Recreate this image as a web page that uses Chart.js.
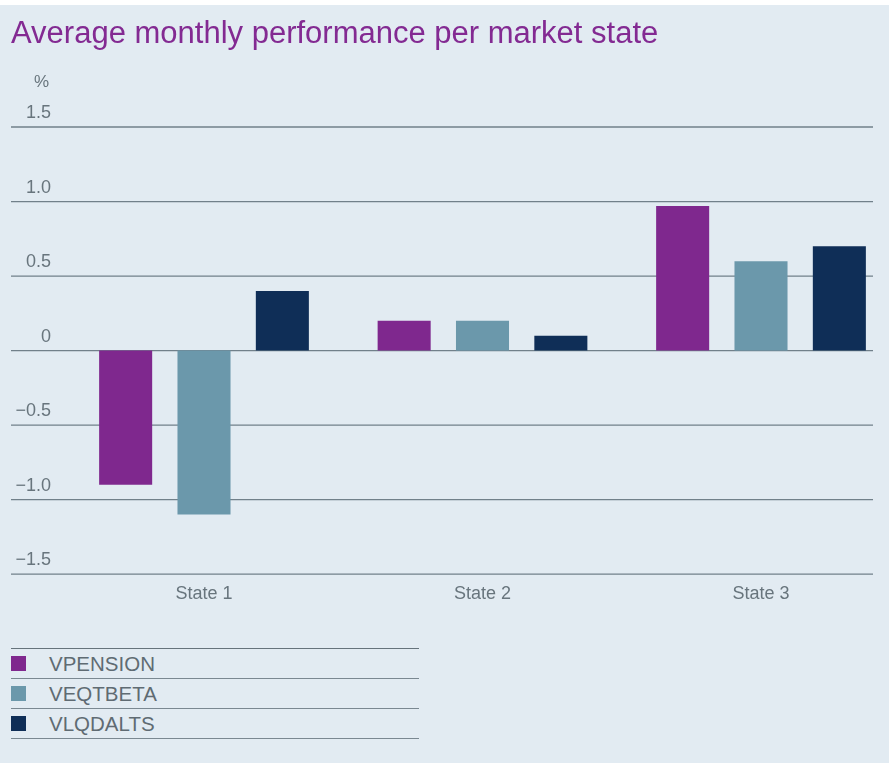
<!DOCTYPE html>
<html><head><meta charset="utf-8">
<script src="https://cdn.jsdelivr.net/npm/chart.js@4"></script>
<style>
html,body{margin:0;padding:0;background:#fff;}
#panel{position:absolute;left:0;top:5px;width:889px;height:758px;background:#e2ebf2;}
#wrap{position:absolute;left:0;top:0;width:894px;height:625px;}
#legend{position:absolute;left:11px;top:648px;width:408px;font-family:"Liberation Sans",Arial,sans-serif;}
.row{height:29px;border-bottom:1px solid #7a8891;position:relative;}
.row:first-child{border-top:1px solid #66737c;}
.sw{position:absolute;left:0;top:7px;width:15px;height:15px;}
.lb{position:absolute;left:38px;top:0;line-height:29px;font-size:20.5px;color:#5f6b73;}
</style></head>
<body>
<div id="panel"></div>
<div id="wrap"><canvas id="c" width="894" height="625"></canvas></div>
<div id="legend"></div>
<script>
const categories = ['State 1', 'State 2', 'State 3'];
const seriesNames = ['VPENSION', 'VEQTBETA', 'VLQDALTS'];
const vpension = [-0.90, 0.20, 0.97];
const veqtbeta = [-1.10, 0.20, 0.60];
const vlqdalts = [0.40, 0.10, 0.70];
const yTickLabels = ['\u22121.5', '\u22121.0', '\u22120.5', '0', '0.5', '1.0', '1.5'];
const yUnit = '%';
const chartTitle = 'Average monthly performance per market state';

const seriesValues = [vpension, veqtbeta, vlqdalts];
const seriesColors = ['#7f288e', '#6b98ab', '#0f2e57'];
const FONT = '"Liberation Sans", Arial, sans-serif';
const TICK_COLOR = '#68757d';

const gridPlugin = {
  id: 'fullGrid',
  beforeDatasetsDraw(chart) {
    const ctx = chart.ctx, y = chart.scales.y;
    ctx.save();
    ctx.strokeStyle = '#71808a';
    ctx.lineWidth = 1.3;
    y.ticks.forEach(t => {
      const py = y.getPixelForValue(t.value);
      ctx.beginPath();
      ctx.moveTo(11, py);
      ctx.lineTo(873, py);
      ctx.stroke();
    });
    ctx.restore();
  },
  afterDraw(chart) {
    const ctx = chart.ctx, a = chart.chartArea;
    ctx.save();
    ctx.fillStyle = TICK_COLOR;
    ctx.font = '17px ' + FONT;
    ctx.textAlign = 'right';
    ctx.textBaseline = 'middle';
    ctx.fillText(yUnit, a.left - 155, a.top - 45);
    ctx.restore();
  }
};

const chart = new Chart(document.getElementById('c'), {
  type: 'bar',
  data: {
    labels: categories,
    datasets: seriesNames.map((n, i) => ({
      label: n,
      data: seriesValues[i],
      backgroundColor: seriesColors[i],
      borderWidth: 0,
      barPercentage: 0.677,
      categoryPercentage: 0.844,
      clip: false
    }))
  },
  options: {
    responsive: false,
    animation: false,
    layout: { padding: { left: 11, right: 133, top: 0, bottom: 10.2 } },
    plugins: {
      legend: { display: false },
      tooltip: { enabled: false },
      title: {
        display: true, text: chartTitle, align: 'start', color: '#832a92',
        font: { family: FONT, size: 31, weight: 'normal', lineHeight: 1.2 },
        padding: { top: 16, bottom: 73.8 }
      }
    },
    scales: {
      x: {
        offset: false,
        grid: { display: false, drawTicks: false },
        border: { display: false },
        ticks: { color: TICK_COLOR, font: { family: FONT, size: 18 }, padding: 9.5, maxRotation: 0, autoSkip: false }
      },
      y: {
        min: -1.5, max: 1.5,
        afterFit(s) { s.width = 193; s.paddingTop = 0; s.paddingBottom = 0; },
        grid: { display: false, drawTicks: false },
        border: { display: false },
        ticks: {
          stepSize: 0.5, padding: 153, labelOffset: -14,
          color: TICK_COLOR, font: { family: FONT, size: 18 },
          callback: (v, i) => yTickLabels[i]
        }
      }
    }
  },
  plugins: [gridPlugin]
});

const lg = document.getElementById('legend');
chart.data.datasets.forEach(ds => {
  const row = document.createElement('div'); row.className = 'row';
  const sw = document.createElement('div'); sw.className = 'sw'; sw.style.background = ds.backgroundColor;
  const lb = document.createElement('div'); lb.className = 'lb'; lb.textContent = ds.label;
  row.appendChild(sw); row.appendChild(lb); lg.appendChild(row);
});
</script>
</body></html>
